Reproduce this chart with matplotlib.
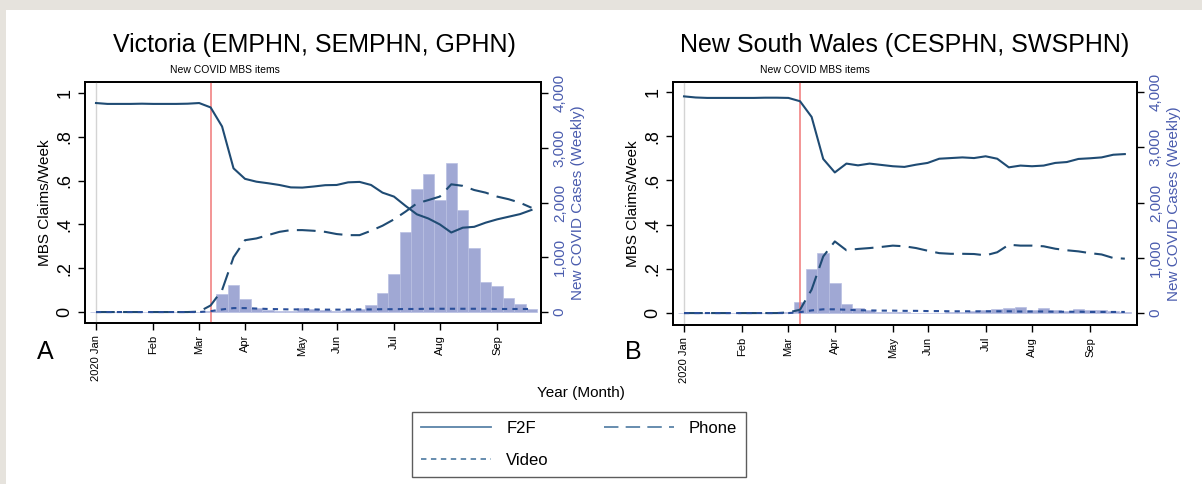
import matplotlib
matplotlib.use("Agg")
import matplotlib.pyplot as plt
from matplotlib.patches import Rectangle
from matplotlib.lines import Line2D
import numpy as np

plt.rcParams['font.family'] = ['Liberation Sans', 'DejaVu Sans']

weeks = list(range(39))
month_ticks = [0, 5, 9, 13, 18, 21, 26, 30, 35]
month_labels = ["2020 Jan", "Feb", "Mar", "Apr", "May", "Jun", "Jul", "Aug", "Sep"]
mbs_week = 10

vic_f2f = [0.954, 0.950, 0.950, 0.950, 0.951, 0.950, 0.950, 0.950, 0.951, 0.954,
           0.934, 0.847, 0.656, 0.608, 0.595, 0.588, 0.580, 0.569, 0.568, 0.573,
           0.579, 0.580, 0.592, 0.594, 0.580, 0.545, 0.527, 0.485, 0.446, 0.427,
           0.400, 0.363, 0.385, 0.389, 0.408, 0.423, 0.435, 0.447, 0.466]
vic_phone = [0.0, 0.0, 0.0, 0.0, 0.0, 0.0, 0.0, 0.0, 0.0, 0.002,
             0.030, 0.100, 0.250, 0.328, 0.336, 0.351, 0.366, 0.374, 0.374, 0.371,
             0.366, 0.356, 0.351, 0.351, 0.371, 0.394, 0.423, 0.458, 0.496, 0.511,
             0.527, 0.583, 0.576, 0.557, 0.545, 0.527, 0.515, 0.499, 0.476]
vic_video = [0.0, 0.0, 0.0, 0.0, 0.0, 0.0, 0.0, 0.0, 0.0, 0.0,
             0.004, 0.012, 0.018, 0.018, 0.016, 0.014, 0.013, 0.012, 0.012, 0.012,
             0.011, 0.011, 0.011, 0.012, 0.012, 0.013, 0.013, 0.014, 0.014, 0.015,
             0.015, 0.015, 0.015, 0.015, 0.015, 0.014, 0.014, 0.014, 0.014]
vic_cases = [0, 0, 0, 0, 0, 0, 0, 0, 0, 5,
             20, 335, 488, 244, 65, 40, 20, 10, 70, 60,
             40, 15, 30, 60, 122, 355, 686, 1470, 2253, 2523,
             2040, 2719, 1868, 1176, 551, 472, 263, 153, 61]

nsw_f2f = [0.980, 0.975, 0.973, 0.973, 0.973, 0.973, 0.973, 0.974, 0.974, 0.973,
           0.958, 0.887, 0.697, 0.636, 0.676, 0.668, 0.676, 0.670, 0.664, 0.661,
           0.671, 0.679, 0.698, 0.701, 0.704, 0.701, 0.709, 0.698, 0.659, 0.667,
           0.664, 0.667, 0.679, 0.683, 0.697, 0.700, 0.704, 0.716, 0.719]
nsw_phone = [0.0, 0.0, 0.0, 0.0, 0.0, 0.0, 0.0, 0.0, 0.0, 0.003,
             0.015, 0.106, 0.256, 0.324, 0.284, 0.290, 0.294, 0.299, 0.305, 0.302,
             0.294, 0.282, 0.271, 0.268, 0.268, 0.267, 0.261, 0.275, 0.309, 0.305,
             0.305, 0.302, 0.291, 0.284, 0.279, 0.271, 0.265, 0.249, 0.246]
nsw_video = [0.0, 0.0, 0.0, 0.0, 0.0, 0.0, 0.0, 0.0, 0.0, 0.0,
             0.004, 0.012, 0.017, 0.017, 0.015, 0.013, 0.012, 0.011, 0.011, 0.010,
             0.010, 0.009, 0.009, 0.008, 0.008, 0.008, 0.008, 0.008, 0.008, 0.007,
             0.007, 0.007, 0.006, 0.006, 0.006, 0.005, 0.005, 0.005, 0.005]
nsw_cases = [0, 0, 0, 0, 0, 0, 0, 0, 0, 20,
             198, 792, 1082, 540, 168, 90, 48, 25, 20, 15,
             10, 10, 10, 15, 25, 40, 60, 80, 100, 110,
             60, 100, 50, 40, 70, 55, 50, 30, 20]

LINE = '#1f4b73'
BAR = '#a0a8d4'
BLUE_AX = '#4a5cae'
RED = '#f07878'

fig = plt.figure(figsize=(12.02, 4.84), dpi=100, facecolor='white')
fig.patches.append(Rectangle((0, 1 - 10 / 484), 1, 10 / 484, transform=fig.transFigure,
                             facecolor='#e6e3dd', edgecolor='none', zorder=0))
fig.patches.append(Rectangle((0, 0), 6 / 1202, 1, transform=fig.transFigure,
                             facecolor='#e6e3dd', edgecolor='none', zorder=0))


def panel(rect, title, f2f, phone, video, cases, xlim, ylim, letter, title_x, note_x):
    ax = fig.add_axes(rect)
    ax2 = ax.twinx()
    ax2.bar(weeks, cases, width=1.0, color=BAR, edgecolor='#b9bfe2', linewidth=0.5, zorder=1)
    ax2.set_ylim(ylim[0] * 4000, ylim[1] * 4000)
    ax2.set_yticks([0, 1000, 2000, 3000, 4000])
    ax2.set_yticklabels(['0', '1,000', '2,000', '3,000', '4,000'], rotation=90,
                        va='center', color=BLUE_AX, fontsize=11)
    ax2.tick_params(axis='y', colors='black', labelcolor=BLUE_AX, length=5, width=1)
    ax2.set_ylabel('New COVID Cases (Weekly)', color=BLUE_AX, fontsize=11, labelpad=3)

    ax.set_zorder(ax2.get_zorder() + 1)
    ax.patch.set_visible(False)
    ax.axvline(0, color='#d4d4d4', lw=1, zorder=1)
    ax.axvline(mbs_week, color=RED, lw=1.1, zorder=2)
    ax.plot(weeks, f2f, color=LINE, lw=1.5, zorder=3)
    ax.plot(weeks, phone, color=LINE, lw=1.5, dashes=(9, 4), zorder=3)
    ax.plot(weeks, video, color='#2a4f9a', lw=1.5, dashes=(2.5, 2.5), zorder=3)
    ax.set_xlim(*xlim)
    ax.set_ylim(*ylim)
    ax.set_yticks([0, 0.2, 0.4, 0.6, 0.8, 1.0])
    ax.set_yticklabels(['0', '.2', '.4', '.6', '.8', '1'], rotation=90, va='center', fontsize=13)
    ax.set_ylabel('MBS Claims/Week', fontsize=11, labelpad=3)
    ax.set_xticks(month_ticks)
    ax.set_xticklabels(month_labels, rotation=90, fontsize=8)
    ax.tick_params(axis='both', length=5, width=1)
    for s in ax.spines.values():
        s.set_linewidth(1.3)
    for s in ax2.spines.values():
        s.set_linewidth(1.3)
    fig.text(title_x, 1 - 45 / 484, title, fontsize=18, ha='center', va='center')
    fig.text(note_x, 1 - 70 / 484, 'New COVID MBS items', fontsize=7.5, ha='center', va='center')
    fig.text(letter[1], 1 - 352 / 484, letter[0], fontsize=18, ha='center', va='center')
    return ax


axA = panel([85 / 1202, 1 - 323 / 484, 456 / 1202, 241 / 484],
            'Victoria (EMPHN, SEMPHN, GPHN)', vic_f2f, vic_phone, vic_video, vic_cases,
            (-0.96, 38.83), (-0.050, 1.050), ('A', 45 / 1202), 314 / 1202, 225 / 1202)
axB = panel([673 / 1202, 1 - 325 / 484, 464 / 1202, 243 / 484],
            'New South Wales (CESPHN, SWSPHN)', nsw_f2f, nsw_phone, nsw_video, nsw_cases,
            (-0.95, 39.05), (-0.054, 1.045), ('B', 633 / 1202), 905 / 1202, 815 / 1202)

fig.text(581 / 1202, 1 - 393 / 484, 'Year (Month)', fontsize=11, ha='center', va='center')

handles = [Line2D([], [], color='#5a84a8', lw=1.3),
           Line2D([], [], color='#5a84a8', lw=1.3, dashes=(3, 2.5)),
           Line2D([], [], color='#5a84a8', lw=1.3, dashes=(8, 4))]
labels = ['F2F', 'Video', 'Phone']
leg = fig.legend(handles, labels, loc='upper left', ncol=2,
                 bbox_to_anchor=(412 / 1202, 1 - 412 / 484), borderaxespad=0,
                 fontsize=12, handlelength=4.2, handletextpad=0.9, columnspacing=3.3,
                 frameon=True, fancybox=False, edgecolor='#333333', borderpad=0.55,
                 labelspacing=1.0)
leg.get_frame().set_linewidth(1)

fig.savefig('out.png', dpi=100, facecolor=fig.get_facecolor())
